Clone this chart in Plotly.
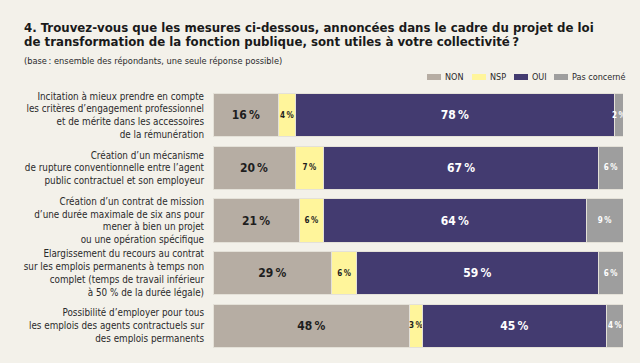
import plotly.graph_objects as go

categories = [
    "Incitation à mieux prendre en compte<br>les critères d’engagement professionnel<br>et de mérite dans les accessoires<br>de la rémunération",
    "Création d’un mécanisme<br>de rupture conventionnelle entre l’agent<br>public contractuel et son employeur",
    "Création d’un contrat de mission<br>d’une durée maximale de six ans pour<br>mener à bien un projet<br>ou une opération spécifique",
    "Elargissement du recours au contrat<br>sur les emplois permanents à temps non<br>complet (temps de travail inférieur<br>à 50 % de la durée légale)",
    "Possibilité d’employer pour tous<br>les emplois des agents contractuels sur<br>des emplois permanents",
]
non = [16, 20, 21, 29, 48]
nsp = [4, 7, 6, 6, 3]
oui = [78, 67, 64, 59, 45]
pas_concerne = [2, 6, 9, 6, 4]

series_names = ["NON", "NSP", "OUI", "Pas concerné"]
series_values = [non, nsp, oui, pas_concerne]
colors = ["#b6ada3", "#fff59b", "#433b70", "#9e9e9e"]
text_colors = ["#1e1e1e", "#1e1e1e", "#ffffff", "#ffffff"]

FONT = "DejaVu Sans Condensed, DejaVu Sans, sans-serif"
BG = "#f3f1ea"

W, H = 640, 363
ML, MR, MT, MB = 213, 17, 89, 11
PW = W - ML - MR
PH = H - MT - MB

def px_x(x):
    return (x - ML) / PW

def px_y(y):
    return (H - MB - y) / PH

fig = go.Figure()
for name, vals, col, tcol in zip(series_names, series_values, colors, text_colors):
    sizes = [12 if v >= 10 else 8 for v in vals]
    fig.add_trace(go.Bar(
        y=categories, x=vals, name=name, orientation="h",
        marker=dict(color=col, line=dict(color="#e4e1d8", width=1)),
        text=[f"{v}\u202f%" for v in vals],
        textposition="inside", insidetextanchor="middle",
        constraintext="none", textangle=0,
        textfont=dict(family=FONT, size=sizes, color=tcol, weight="bold"),
        hoverinfo="skip", showlegend=False,
    ))

fig.update_layout(
    width=W, height=H, barmode="stack", bargap=0.18,
    paper_bgcolor=BG, plot_bgcolor=BG,
    margin=dict(l=ML, r=MR, t=MT, b=MB, autoexpand=False),
    font=dict(family=FONT, color="#2a2a2a"),
    xaxis=dict(range=[0, 100], visible=False, fixedrange=True, automargin=False),
    yaxis=dict(autorange="reversed", showgrid=False, zeroline=False, showline=False,
               automargin=False,
               ticks="outside", ticklen=6, tickcolor=BG,
               tickfont=dict(family=FONT, size=9.8, color="#2a2a2a")),
)

# Title and subtitle
fig.add_annotation(x=px_x(22), y=px_y(28), xref="paper", yref="paper", xanchor="left", yanchor="middle",
                   text="4. Trouvez-vous que les mesures ci-dessous, annoncées dans le cadre du projet de loi",
                   showarrow=False, font=dict(family=FONT, size=13.1, color="#1a1a1a", weight="bold"))
fig.add_annotation(x=px_x(22), y=px_y(42), xref="paper", yref="paper", xanchor="left", yanchor="middle",
                   text="de transformation de la fonction publique, sont utiles à votre collectivité\u202f?",
                   showarrow=False, font=dict(family=FONT, size=13.1, color="#1a1a1a", weight="bold"))
fig.add_annotation(x=px_x(22), y=px_y(60), xref="paper", yref="paper", xanchor="left", yanchor="middle",
                   text="(base\u202f: ensemble des répondants, une seule réponse possible)",
                   showarrow=False, font=dict(family=FONT, size=9.2, color="#2a2a2a"))

# Custom legend
legend_x = [427, 472, 514, 554]
for name, col, lx in zip(series_names, colors, legend_x):
    fig.add_shape(type="rect", xref="paper", yref="paper",
                  x0=px_x(lx), x1=px_x(lx + 14), y0=px_y(80), y1=px_y(74),
                  fillcolor=col, line=dict(width=0))
    fig.add_annotation(x=px_x(lx + 16), y=px_y(77), xref="paper", yref="paper",
                       xanchor="left", yanchor="middle", text=name, showarrow=False,
                       font=dict(family=FONT, size=9, color="#2a2a2a"))

fig.write_html(
    "out.html",
    config={"displayModeBar": False},
    post_script="document.body.style.margin='0';document.body.style.background='" + BG + "';",
)
